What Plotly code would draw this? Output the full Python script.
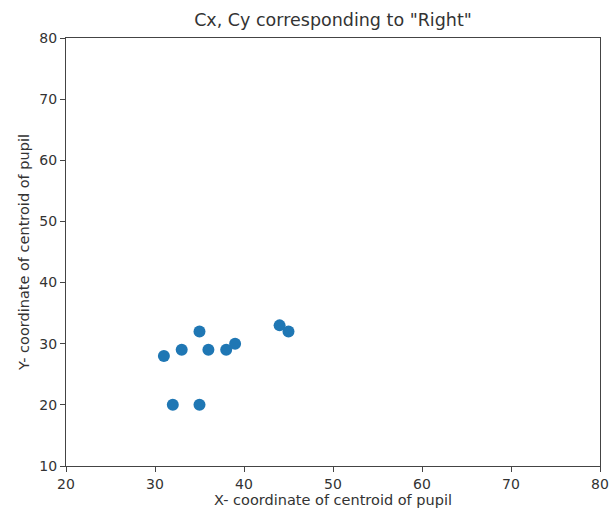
import plotly.graph_objects as go

cx = [31, 32, 33, 35, 35, 36, 38, 39, 44, 45]
cy = [28, 20, 29, 32, 20, 29, 29, 30, 33, 32]
x_ticks = [20, 30, 40, 50, 60, 70, 80]
y_ticks = [10, 20, 30, 40, 50, 60, 70, 80]

fig = go.Figure(go.Scatter(x=cx, y=cy, mode="markers",
                           marker=dict(color="#1f77b4", size=12)))

axis_common = dict(showline=True, linecolor="#444444", linewidth=1.2, mirror=True,
                   ticks="outside", ticklen=5, tickcolor="#444444", showgrid=False,
                   zeroline=False, automargin=False, tickfont=dict(size=14, color="#333333"))

fig.update_layout(
    width=611, height=513,
    margin=dict(l=66, r=11, t=38, b=47),
    paper_bgcolor="white", plot_bgcolor="white",
    font=dict(family="DejaVu Sans", color="#333333"),
    title=dict(text='Cx, Cy corresponding to "Right"', x=(66 + 600) / 2 / 611, xanchor="center",
               y=1 - 20 / 513, yanchor="middle", font=dict(size=17.5)),
    xaxis=dict(range=[20, 80], tickvals=x_ticks,
               title=dict(text="X- coordinate of centroid of pupil", font=dict(size=14.5), standoff=2),
               **axis_common),
    yaxis=dict(range=[10, 80], tickvals=y_ticks,
               title=dict(text="Y- coordinate of centroid of pupil", font=dict(size=14.5), standoff=6),
               **axis_common),
    showlegend=False,
)

fig.write_html("out.html", config={"displayModeBar": False},
               post_script="document.body.style.margin='0';document.body.style.overflow='hidden';")
